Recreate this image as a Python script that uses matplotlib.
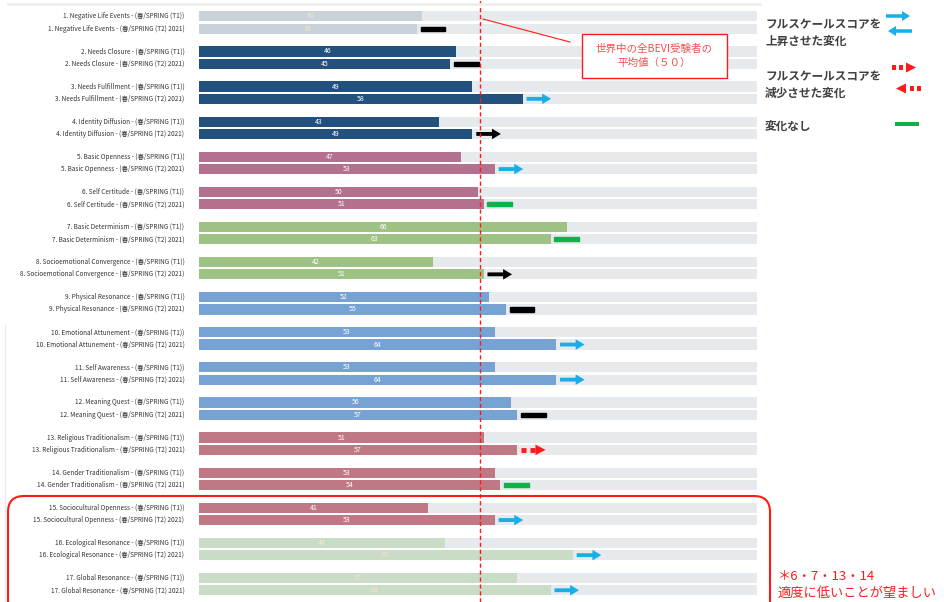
import numpy as np
import matplotlib.pyplot as plt
from matplotlib.patches import FancyArrow, FancyBboxPatch, Rectangle

plt.rcParams['font.family'] = ['Noto Sans CJK JP', 'DejaVu Sans']

# -------------------
# Data
# -------------------

names = ["Negative Life Events", "Needs Closure", "Needs Fulfillment",
         "Identity Diffusion", "Basic Openness", "Self Certitude",
         "Basic Determinism", "Socioemotional Convergence",
         "Physical Resonance", "Emotional Attunement", "Self Awareness",
         "Meaning Quest", "Religious Traditionalism", "Gender Traditionalism",
         "Sociocultural Openness", "Ecological Resonance", "Global Resonance"]

t1_scores = [40, 46, 49, 43, 47, 50, 66, 42, 52, 53, 53, 56, 51, 53, 41, 44, 57]
t2_scores = [39, 45, 58, 49, 53, 51, 63, 51, 55, 64, 64, 57, 57, 54, 53, 67, 63]

# change mark drawn after each T2 bar
changes = ["black_bar", "black_bar", "up", "black_arrow", "up", "same",
           "same", "black_arrow", "black_bar", "up", "up", "black_bar",
           "down", "same", "up", "up", "up"]

t1_suffix = " - (春/SPRING (T1))"
t2_suffix = " - (春/SPRING (T2) 2021)"

world_mean = 50

# -------------------
# Styles
# -------------------

gray = "#c9d1d9"
navy = "#23517e"
mauve = "#b3708f"
green = "#9ec283"
blue = "#76a3d4"
rose = "#c07884"
pale = "#c9dcc6"

bar_colors = [gray, navy, navy, navy, mauve, mauve, green, green,
              blue, blue, blue, blue, rose, rose, rose, pale, pale]
light_bars = [gray, pale]

track = "#e7eaed"
cyan = "#1aaee8"
red = "#ff1a1a"
okgreen = "#10b04a"

# -------------------
# Figure
# -------------------

W, H = 944, 602
fig = plt.figure(figsize=(W / 100, H / 100), dpi=100)

ax = fig.add_axes([199 / W, 0, (757 - 199) / W, 1])
ax.set_xlim(0, 100)
top_px, step_px = 22.5, 35.1
ax.set_ylim(16 + (H - (top_px + 16 * step_px)) / step_px, -top_px / step_px)
ax.axis("off")

off = 0.175
bh = 0.29
n = len(names)

for i in range(n):
    for y, val, suf in [(i - off, t1_scores[i], t1_suffix),
                        (i + off, t2_scores[i], t2_suffix)]:
        ax.barh(y, 100, height=bh, color=track, zorder=1)
        ax.barh(y, val, height=bh, color=bar_colors[i], zorder=2)
        tc = "#f3e8c8" if bar_colors[i] in light_bars else "white"
        ax.text(val / 2, y, str(val), ha="center", va="center",
                fontsize=5, color=tc, zorder=3)
        ax.text(-2.6, y, f"{i + 1}. {names[i]}{suf}", ha="right",
                va="center", fontsize=4.6, color="#333333")

    # change marks
    x0 = t2_scores[i] + 0.7
    y = i + off
    kind = changes[i]
    if kind in ("black_bar", "same"):
        c = "black" if kind == "black_bar" else okgreen
        ax.add_patch(Rectangle((x0, y - 0.06), 4.4, 0.12, color=c, zorder=4))
    elif kind in ("up", "black_arrow"):
        c = cyan if kind == "up" else "black"
        ax.add_patch(FancyArrow(x0, y, 4.4, 0, width=0.11, head_width=0.3,
                                head_length=1.6, length_includes_head=True,
                                color=c, lw=0, zorder=4))
    else:
        ax.plot([x0, x0 + 0.9], [y, y], color=red, lw=3.5,
                solid_capstyle="butt", zorder=4)
        ax.plot([x0 + 1.6, x0 + 2.5], [y, y], color=red, lw=3.5,
                solid_capstyle="butt", zorder=4)
        ax.add_patch(FancyArrow(x0 + 2.6, y, 1.8, 0, width=0.02,
                                head_width=0.3, head_length=1.8,
                                length_includes_head=True, color=red,
                                lw=0, zorder=4))

ax.axvline(world_mean + 0.3, color=red, lw=1, ls=(0, (3, 2)), zorder=5)

# -------------------
# Overlay: legend and notes (pixel coords)
# -------------------

ov = fig.add_axes([0, 0, 1, 1], zorder=10)
ov.set_xlim(0, W)
ov.set_ylim(H, 0)
ov.axis("off")
ov.patch.set_alpha(0)

ov.plot([8, 760], [4, 4], color="#eeeeee", lw=2)
ov.plot([5, 5], [325, H], color="#eaeaea", lw=1)

# mean annotation
ov.plot([483, 570], [19, 42], color=red, lw=0.8)
ov.add_patch(Rectangle((582, 34), 145, 44, fill=True, facecolor="white",
                       edgecolor=red, lw=1))
ov.text(654.5, 56, "世界中の全BEVI受験者の\n平均値（５０）", ha="center",
        va="center", fontsize=7.6, color="#f05050", linespacing=1.5)

# legend
lc = "#404040"
ov.text(765, 33, "フルスケールスコアを\n上昇させた変化", ha="left", va="center",
        fontsize=8.4, fontweight="bold", color=lc, linespacing=1.45)
ov.add_patch(FancyArrow(886, 16, 24, 0, width=3.5, head_width=10,
                        head_length=8, length_includes_head=True,
                        color=cyan, lw=0))
ov.add_patch(FancyArrow(912, 31, -24, 0, width=3.5, head_width=10,
                        head_length=8, length_includes_head=True,
                        color=cyan, lw=0))

ov.text(765, 85, "フルスケールスコアを\n減少させた変化", ha="left", va="center",
        fontsize=8.4, fontweight="bold", color=lc, linespacing=1.45)
for x in (892, 899):
    ov.add_patch(Rectangle((x, 65), 4, 5, color=red, lw=0))
ov.add_patch(FancyArrow(906, 67.5, 10, 0, width=0.5, head_width=10,
                        head_length=10, length_includes_head=True,
                        color=red, lw=0))
for x in (910, 917):
    ov.add_patch(Rectangle((x, 86), 4, 5, color=red, lw=0))
ov.add_patch(FancyArrow(906, 88.5, -10, 0, width=0.5, head_width=10,
                        head_length=10, length_includes_head=True,
                        color=red, lw=0))

ov.text(765, 126, "変化なし", ha="left", va="center",
        fontsize=8.4, fontweight="bold", color=lc)
ov.add_patch(Rectangle((895, 122), 24, 4, color=okgreen, lw=0))

# highlighted region and note
ov.add_patch(FancyBboxPatch((8, 496), 762, 130,
                            boxstyle="round,pad=0,rounding_size=16",
                            fill=False, edgecolor=red, lw=1.5))
ov.text(778, 585, "＊6・7・13・14\n適度に低いことが望ましい", ha="left",
        va="center", fontsize=9.5, color=red, linespacing=1.35)

fig.savefig("out.png", dpi=100, facecolor="white")
